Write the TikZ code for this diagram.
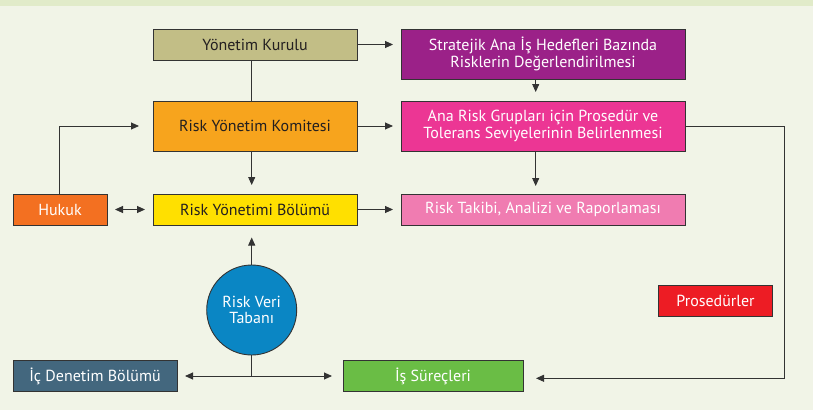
\documentclass[tikz,border=0pt]{standalone}
\usepackage{fontspec}
\setmainfont{PT Sans}
\usetikzlibrary{arrows.meta,calc}
\definecolor{bg}{HTML}{F1F4E7}
\definecolor{band}{HTML}{E1EBC9}
\definecolor{ln}{HTML}{333333}
\definecolor{txtd}{HTML}{231F20}
\definecolor{cyk}{HTML}{C2BE86}
\definecolor{csa}{HTML}{9B2188}
\definecolor{crk}{HTML}{F7A41D}
\definecolor{car}{HTML}{EC3694}
\definecolor{crb}{HTML}{FFE000}
\definecolor{crt}{HTML}{F07CB1}
\definecolor{chk}{HTML}{F37021}
\definecolor{cdb}{HTML}{0A86C4}
\definecolor{cid}{HTML}{43677E}
\definecolor{cis}{HTML}{6ABD45}
\definecolor{cpr}{HTML}{ED1C24}
\tikzset{
  box/.style={draw=ln, line width=0.9pt, inner sep=0pt, outer sep=0pt, align=center,
    font=\fontsize{16}{16.8}\selectfont, text=white},
  dark/.style={text=txtd},
  conn/.style={draw=ln, line width=0.9pt},
  arr/.style={conn, -{Triangle[length=8pt,width=7pt]}},
  darr/.style={conn, {Triangle[length=8pt,width=7pt]}-{Triangle[length=8pt,width=7pt]}}
}
\begin{document}
\begin{tikzpicture}[x=1pt,y=-1pt]
\fill[bg] (0,0) rectangle (813,410);
\fill[band] (0,0) rectangle (813,5.7);
\useasboundingbox (0,0) rectangle (813,410);

\node[box,dark,fill=cyk,minimum width=204pt,minimum height=31pt] (yk) at (255,44.5) {Yönetim Kurulu};
\node[box,fill=csa,minimum width=284pt,minimum height=50pt] (sa) at (543,54) {Stratejik Ana İş Hedefleri Bazında\\Risklerin Değerlendirilmesi};
\node[box,dark,fill=crk,minimum width=204pt,minimum height=50pt] (rk) at (255,126) {Risk Yönetim Komitesi};
\node[box,fill=car,minimum width=284pt,minimum height=50pt] (ar) at (543,126) {Ana Risk Grupları için Prosedür ve\\Tolerans Seviyelerinin Belirlenmesi};
\node[box,dark,fill=crb,minimum width=204pt,minimum height=31pt] (rb) at (255,209.5) {Risk Yönetimi Bölümü};
\node[box,fill=crt,minimum width=284pt,minimum height=31pt] (rt) at (543,209.5) {Risk Takibi, Analizi ve Raporlaması};
\node[box,fill=chk,minimum width=94pt,minimum height=31pt] (hk) at (60,209.5) {Hukuk};
\node[box,circle,fill=cdb,minimum size=90pt] (db) at (251.7,310) {Risk Veri\\Tabanı};
\node[box,fill=cid,minimum width=164pt,minimum height=31pt] (id) at (95,376) {İç Denetim Bölümü};
\node[box,fill=cis,minimum width=180pt,minimum height=31pt] (is) at (433,376) {İş Süreçleri};
\node[box,fill=cpr,minimum width=114pt,minimum height=31pt] (pr) at (715.5,300.5) {Prosedürler};
\coordinate (c1) at (784.3,378.3);

\draw[arr, shorten >=8pt] (yk.east) -- (sa.west |- yk.east);
\draw[arr, shorten >=8pt] (rk.east) -- (ar.west);
\draw[arr, shorten >=8pt] (rb.east) -- (rt.west);
\draw[arr, shorten >=9pt] ($(sa.south)+(-7.3,0)$) -- ($(ar.north)+(-7.3,0)$);
\draw[arr, shorten >=8pt] ($(ar.south)+(-7.3,0)$) -- ($(rt.north)+(-7.3,0)$);
\draw[conn] (db |- yk.south) -- (db |- rk.north);
\draw[arr, shorten >=9pt] (db |- rk.south) -- (db |- rb.north);
\draw[darr, shorten >=8pt, shorten <=8pt] (hk.east) -- (rb.west);
\draw[arr, shorten >=14pt] ([xshift=-1pt]hk.north) |- (rk.west);
\draw[arr, shorten >=12.5pt] (db.north) -- (db |- rb.south);
\draw[conn] (db.south) -- (db |- id.east);
\draw[arr, shorten >=8pt] (db |- id.east) -- (id.east);
\draw[arr, shorten >=11pt] (db |- is.west) -- (is.west);
\draw[arr, shorten >=13pt] (ar.east) -| (c1) -- (c1 -| is.east);
\end{tikzpicture}
\end{document}
